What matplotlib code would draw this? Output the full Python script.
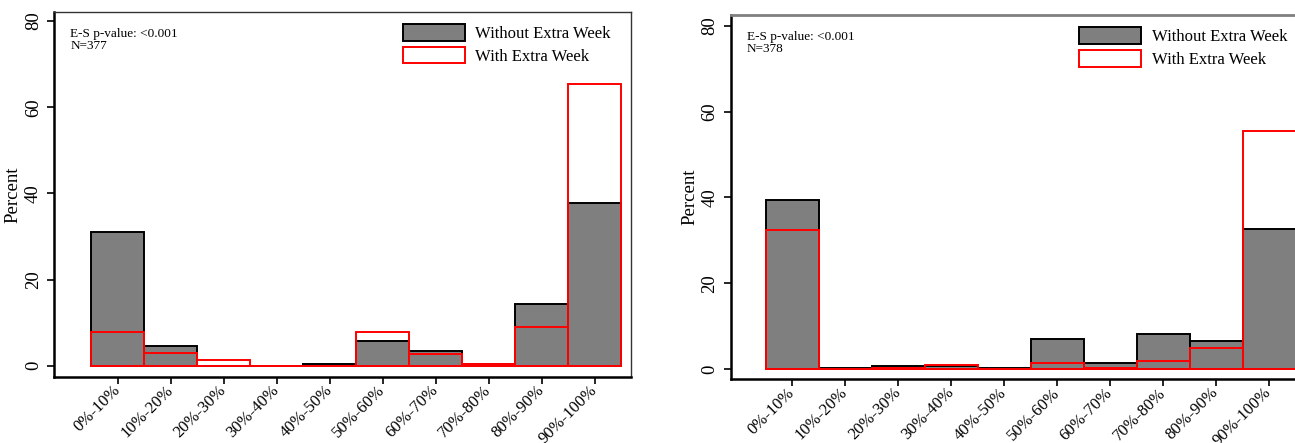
import matplotlib
matplotlib.use("Agg")
import matplotlib.pyplot as plt
from matplotlib.patches import Patch
import numpy as np

plt.rcParams['font.family'] = ['Liberation Serif', 'DejaVu Serif']

bins = ["0%-10%", "10%-20%", "20%-30%", "30%-40%", "40%-50%",
        "50%-60%", "60%-70%", "70%-80%", "80%-90%", "90%-100%"]

# left panel (N=377)
left_without = [31.0, 4.5, 0.0, 0.0, 0.5, 5.8, 3.5, 0.3, 14.4, 37.7]
left_with = [7.9, 2.9, 1.3, 0.0, 0.0, 7.9, 2.8, 0.3, 9.0, 65.5]
left_note = "E-S p-value: <0.001\nN=377"

# right panel (N=378)
right_without = [39.5, 0.2, 0.8, 0.8, 0.2, 7.1, 1.3, 8.2, 6.6, 32.7]
right_with = [32.4, 0.0, 0.3, 1.0, 0.0, 1.3, 0.3, 1.9, 5.0, 55.5]
right_note = "E-S p-value: <0.001\nN=378"

W, H = 1295, 443
fig = plt.figure(figsize=(W / 100, H / 100), dpi=100)


def panel(rect, without, with_, note, xlim, ylim, label_x, top_grey=False):
    ax = fig.add_axes(rect)
    x = np.arange(len(bins))
    ax.bar(x, without, width=1, color="#7f7f7f", edgecolor="black", linewidth=1.4, zorder=2)
    ax.bar(x, with_, width=1, fill=False, edgecolor="#ff0000", linewidth=1.4, zorder=3)
    ax.set_xlim(*xlim)
    ax.set_ylim(*ylim)
    ax.set_yticks([0, 20, 40, 60, 80])
    ax.set_yticklabels(["0", "20", "40", "60", "80"], rotation=90, va="center", fontsize=13.5)
    ax.set_xticks(x)
    ax.set_xticklabels(bins, rotation=45, ha="right", va="center", rotation_mode="anchor", fontsize=12)
    ax.tick_params(axis="both", direction="out", length=5, width=1.2, color="black")
    ax.tick_params(axis="x", pad=3)
    ax.tick_params(axis="y", pad=4)
    ax.set_ylabel("Percent", fontsize=13.5)
    ax.yaxis.set_label_coords(label_x, 0.5)
    for side in ("left", "bottom"):
        ax.spines[side].set_linewidth(1.8)
        ax.spines[side].set_color("black")
    for side in ("top", "right"):
        ax.spines[side].set_linewidth(1.0)
        ax.spines[side].set_color("#333333")
    if top_grey:
        ax.spines["top"].set_linewidth(2.0)
        ax.spines["top"].set_color("#808080")
    ax.text(0.028, 0.955, note, transform=ax.transAxes, fontsize=9.5, va="top", ha="left",
            linespacing=0.9)
    handles = [Patch(facecolor="#7f7f7f", edgecolor="black", linewidth=1.4, label="Without Extra Week"),
               Patch(facecolor="white", edgecolor="#ff0000", linewidth=1.4, label="With Extra Week")]
    return ax, handles


leg_kw = dict(loc="upper left", frameon=False, fontsize=12, handlelength=3.7, handleheight=1.15,
              handletextpad=0.65, labelspacing=0.3, borderpad=0, borderaxespad=0)

axl, h = panel([0.0419, 0.1497, 0.4451, 0.8232], left_without, left_with, left_note,
               (-1.196, 9.68), (-2.55, 82.1), -0.057)
axl.legend(handles=h, bbox_to_anchor=(0.605, 0.967), **leg_kw)

axr, h = panel([0.5642, 0.1438, 0.4448, 0.8223], right_without, right_with, right_note,
               (-1.16, 9.71), (-2.4, 82.5), -0.056, top_grey=True)
axr.legend(handles=h, bbox_to_anchor=(0.605, 0.966), **leg_kw)

fig.savefig("out.png", dpi=100)
